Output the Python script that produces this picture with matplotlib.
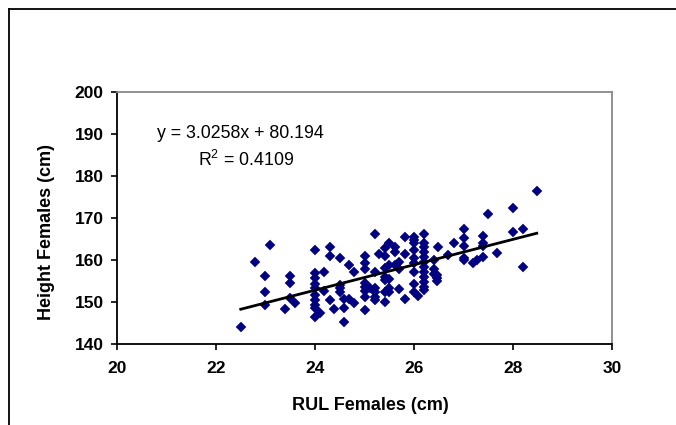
import matplotlib
matplotlib.use("Agg")
import matplotlib.pyplot as plt
from matplotlib.lines import Line2D

plt.rcParams['font.family'] = ['Liberation Sans', 'DejaVu Sans']
plt.rcParams['mathtext.fontset'] = 'custom'
plt.rcParams['mathtext.rm'] = 'Liberation Sans'
plt.rcParams['mathtext.it'] = 'Liberation Sans:italic'
plt.rcParams['mathtext.bf'] = 'Liberation Sans:bold'

# ---- data ----
rul = [22.50, 22.79, 22.99, 22.99, 22.99, 23.10, 23.39, 23.50, 23.50, 23.50, 23.59,
       23.99, 24.0, 24.0, 24.0, 24.0, 24.0, 24.0, 24.0, 24.0, 24.0,
       24.10, 24.19, 24.19, 24.30, 24.30, 24.30, 24.38,
       24.50, 24.50, 24.50, 24.50, 24.59, 24.59, 24.59, 24.69, 24.69, 24.79, 24.79,
       25.0, 25.0, 25.0, 25.0, 25.0, 25.0, 25.0, 25.0, 25.11,
       25.21, 25.21, 25.21, 25.21, 25.21, 25.21, 25.30,
       25.41, 25.41, 25.41, 25.41, 25.41, 25.41, 25.41,
       25.50, 25.50, 25.50, 25.50, 25.50, 25.61, 25.61, 25.61,
       25.70, 25.70, 25.70, 25.81, 25.81, 25.81,
       26.0, 26.0, 26.0, 26.0, 26.0, 26.0, 26.0, 26.0, 26.0, 26.09,
       26.2, 26.2, 26.2, 26.2, 26.2, 26.2, 26.2, 26.2, 26.2, 26.2, 26.2, 26.2,
       26.4, 26.4, 26.4, 26.47, 26.47, 26.47, 26.49, 26.69, 26.80,
       27.0, 27.0, 27.0, 27.0, 27.0, 27.20, 27.28,
       27.40, 27.40, 27.40, 27.40, 27.49, 27.68, 28.0, 28.0, 28.2, 28.2, 28.48]
height = [144.1, 159.6, 156.3, 152.5, 149.3, 163.5, 148.3, 156.3, 154.5, 150.9, 149.7,
          162.5, 156.8, 155.6, 154.4, 153.3, 151.7, 150.5, 149.3, 148.5, 146.5,
          147.4, 157.2, 152.7, 163.1, 161.0, 150.4, 148.3,
          160.4, 154.0, 153.3, 152.5, 150.7, 148.6, 145.2, 158.7, 150.7, 157.2, 149.7,
          161.0, 159.2, 157.9, 154.5, 153.5, 152.7, 151.2, 148.0, 153.3,
          166.2, 157.2, 153.3, 152.5, 151.3, 150.5, 161.4,
          162.8, 161.0, 158.0, 156.0, 155.2, 152.5, 150.1,
          164.1, 158.7, 155.5, 153.3, 152.5, 163.1, 162.0, 158.9,
          159.6, 157.9, 153.1, 165.5, 161.4, 150.7,
          165.5, 164.8, 164.1, 162.5, 160.4, 159.2, 157.2, 154.2, 152.5, 151.5,
          166.2, 164.1, 163.1, 161.8, 160.8, 159.6, 158.4, 157.2, 156.0, 154.8, 153.6, 152.9,
          160.0, 157.9, 156.6, 156.4, 155.6, 155.0, 163.1, 161.2, 164.0,
          167.5, 165.3, 163.4, 160.4, 160.0, 159.4, 159.9,
          165.6, 164.1, 163.3, 160.7, 171.0, 161.7, 172.5, 166.6, 167.5, 158.3, 176.5]

slope = 3.0258
intercept = 80.194
r_squared = 0.4109

x_ticks = [20, 22, 24, 26, 28, 30]
y_ticks = [140, 150, 160, 170, 180, 190, 200]

# ---- figure ----
fig = plt.figure(figsize=(6.76, 4.25), dpi=100)
ax = fig.add_axes([117/676, 1 - 344/425, (612-117)/676, (344-92)/425])

ax.plot(rul, height, linestyle='none', marker='D', markersize=4.8,
        markerfacecolor='#000080', markeredgecolor='#000080', markeredgewidth=0.3,
        zorder=3)

xmin, xmax = min(rul), max(rul)
ax.plot([xmin, xmax], [slope*xmin + intercept, slope*xmax + intercept],
        color='black', linewidth=2.0, zorder=4)

ax.set_xlim(20, 30)
ax.set_ylim(140, 200)
ax.set_xticks(x_ticks)
ax.set_yticks(y_ticks)
ax.set_xticklabels([str(v) for v in x_ticks], fontsize=12.5, fontweight='bold')
ax.set_yticklabels([str(v) for v in y_ticks], fontsize=12.5, fontweight='bold')
ax.tick_params(axis='x', direction='out', length=4, width=1.2, pad=8.5)
ax.tick_params(axis='y', direction='out', length=4.5, width=1.2, pad=5)

for side in ('left', 'bottom'):
    ax.spines[side].set_color('black')
    ax.spines[side].set_linewidth(1.3)
for side in ('top', 'right'):
    ax.spines[side].set_color('#888888')
    ax.spines[side].set_linewidth(1.3)

ax.set_xlabel('RUL Females (cm)', fontsize=13, fontweight='bold')
ax.set_ylabel('Height Females (cm)', fontsize=13, fontweight='bold')
ax.xaxis.set_label_coords((370-117)/(612-117), -(405-344)/252)
ax.xaxis.label.set_va('center')
ax.yaxis.set_label_coords(-(117-47)/(612-117), (344-232)/252)
ax.yaxis.label.set_va('center')

ax.text(22.5, 190.0, 'y = 3.0258x + 80.194', fontsize=12.8, ha='center', va='center')
ax.text(22.6, 183.8, 'R$^2$ = 0.4109', fontsize=12.8, ha='center', va='center')

# outer chart-area border (cropped on the right and bottom)
fig.add_artist(Line2D([9/676, 9/676], [0, 1 - 9/425], color='black', linewidth=1.3,
                      transform=fig.transFigure))
fig.add_artist(Line2D([9/676, 1], [1 - 9/425, 1 - 9/425], color='black', linewidth=1.3,
                      transform=fig.transFigure))

fig.savefig('out.png', dpi=100)
